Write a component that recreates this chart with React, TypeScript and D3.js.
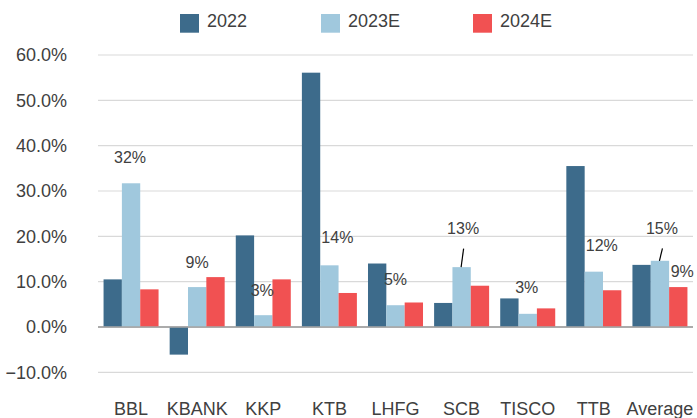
import React from "react";
import * as d3 from "d3";

const categories = ["BBL", "KBANK", "KKP", "KTB", "LHFG", "SCB", "TISCO", "TTB", "Average"];
const seriesNames = ["2022", "2023E", "2024E"];
const values2022 = [10.5, -6.1, 20.2, 56.1, 14.0, 5.3, 6.3, 35.5, 13.7];
const values2023E = [31.7, 8.8, 2.6, 13.6, 4.8, 13.2, 2.9, 12.2, 14.6];
const values2024E = [8.3, 11.0, 10.5, 7.5, 5.4, 9.1, 4.1, 8.1, 8.8];
const yTicks = [-10, 0, 10, 20, 30, 40, 50, 60];

// which series each data label belongs to (series index, category index)
const labelPoints: [number, number][] = [
  [1, 0], [1, 1], [1, 2], [1, 3], [1, 4], [1, 5], [1, 6], [1, 7], [1, 8], [2, 8],
];

const W = 697;
const H = 418;
const colors = ["#3D6B8B", "#A0C8DD", "#F15152"];
const textColor = "#404040";
const font = "'Liberation Sans', Arial, Helvetica, sans-serif";

// label nudges (dx, dy above bar top) and leader line flags
const labelNudge: { dx: number; dy: number; leader: boolean }[] = [
  { dx: -1, dy: 26, leader: false },
  { dx: 0, dy: 25, leader: false },
  { dx: -1, dy: 25, leader: false },
  { dx: 8, dy: 28, leader: false },
  { dx: 0, dy: 26, leader: false },
  { dx: 1.5, dy: 39, leader: true },
  { dx: -1, dy: 27, leader: false },
  { dx: 8, dy: 26, leader: false },
  { dx: 2, dy: 33, leader: true },
  { dx: 4, dy: 16, leader: false },
];

const legendX = [180, 321, 473];

export default function App() {
  const series = [values2022, values2023E, values2024E];
  const x0 = d3.scaleBand<string>().domain(categories).range([98, 693]).paddingInner(0.168).paddingOuter(0.084);
  const x1 = d3.scaleBand<string>().domain(seriesNames).range([0, x0.bandwidth()]);
  const y = d3.scaleLinear().domain([-10, 60]).range([372.3, 55]);
  const fmtTick = d3.format(".1f");
  const fmtLabel = (v: number) => `${Math.round(v)}%`;

  return (
    <svg
      width={W}
      height={H}
      style={{ position: "absolute", left: 0, top: 0, background: "#fff" }}
      fontFamily={font}
    >
      {/* gridlines */}
      {yTicks.map((t) => (
        <line
          key={"g" + t}
          x1={98}
          x2={693}
          y1={y(t)}
          y2={y(t)}
          stroke={t === 0 ? "#A6A6A6" : "#D9D9D9"}
          strokeWidth={t === 0 ? 1.5 : 1.2}
        />
      ))}
      {/* tick labels */}
      {yTicks.map((t) => (
        <text
          key={"t" + t}
          x={67}
          y={y(t)}
          dy="0.36em"
          textAnchor="end"
          fontSize={18}
          fill={textColor}
        >
          {fmtTick(t) + "%"}
        </text>
      ))}
      {/* bars */}
      {categories.map((c, ci) => (
        <g key={c} transform={`translate(${x0(c)},0)`}>
          {series.map((vals, si) => {
            const v = vals[ci];
            return (
              <rect
                key={si}
                x={x1(seriesNames[si])}
                width={x1.bandwidth()}
                y={Math.min(y(v), y(0))}
                height={Math.abs(y(v) - y(0))}
                fill={colors[si]}
              />
            );
          })}
        </g>
      ))}
      {/* zero line on top */}
      <line x1={98} x2={693} y1={y(0)} y2={y(0)} stroke="#A6A6A6" strokeWidth={1.5} />
      {/* data labels */}
      {labelPoints.map(([si, ci], i) => {
        const v = series[si][ci];
        const bx = (x0(categories[ci]) as number) + (x1(seriesNames[si]) as number) + x1.bandwidth() / 2;
        const by = y(v);
        const n = labelNudge[i];
        const lx = bx + n.dx;
        const ly = by - n.dy;
        return (
          <g key={"l" + i}>
            {n.leader && (
              <line x1={lx + 0.5} y1={ly + 20.5} x2={bx - 0.5} y2={by} stroke="#000" strokeWidth={1.2} />
            )}
            <text x={lx} y={ly} dy="0.36em" textAnchor="middle" fontSize={16} fill={textColor}>
              {fmtLabel(v)}
            </text>
          </g>
        );
      })}
      {/* category labels */}
      {categories.map((c) => (
        <text
          key={"c" + c}
          x={(x0(c) as number) + x0.bandwidth() / 2}
          y={415}
          textAnchor="middle"
          fontSize={18}
          fill={textColor}
        >
          {c}
        </text>
      ))}
      {/* legend */}
      {seriesNames.map((s, i) => (
        <g key={"lg" + s}>
          <rect x={legendX[i]} y={14} width={19} height={18.7} fill={colors[i]} />
          <text x={legendX[i] + 27} y={27.3} fontSize={18} fill={textColor}>
            {s}
          </text>
        </g>
      ))}
    </svg>
  );
}
